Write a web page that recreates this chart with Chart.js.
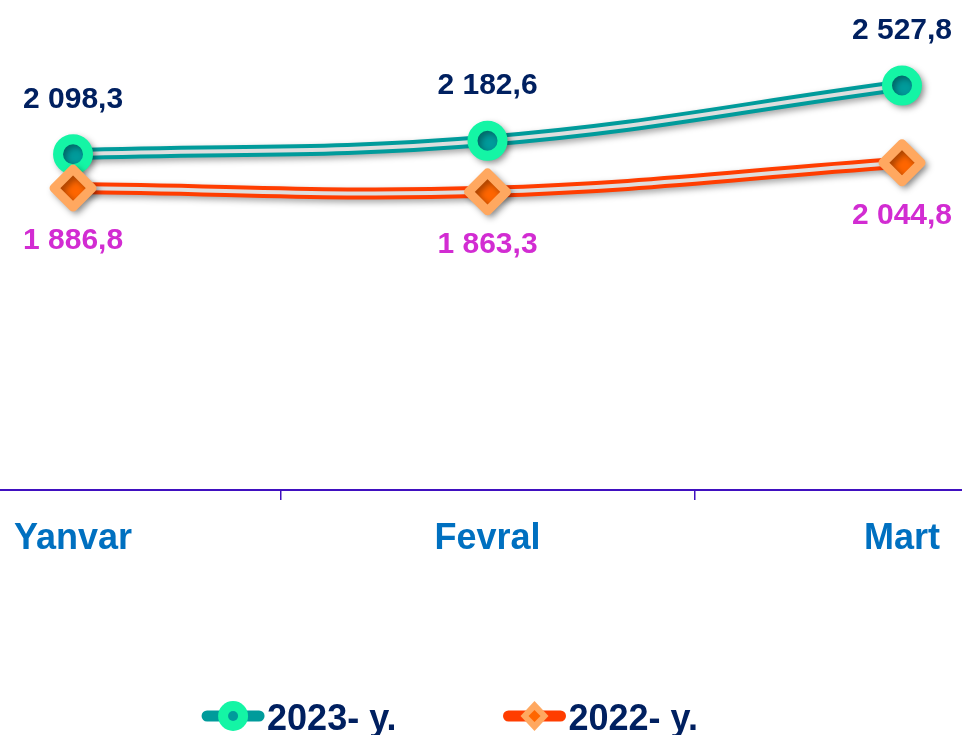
<!DOCTYPE html>
<html>
<head>
<meta charset="utf-8">
<title>2023 vs 2022</title>
<script src="https://cdn.jsdelivr.net/npm/chart.js@4/dist/chart.umd.min.js"></script>
<style>
    html, body { margin: 0; padding: 0; background: #ffffff; overflow: hidden; }
    #wrap { position: relative; width: 962px; height: 735px; }
</style>
</head>
<body>
<div id="wrap"><canvas id="monthChart"></canvas></div>
<script>
// chart data
const months = ['Yanvar', 'Fevral', 'Mart'];
const values2023 = [2098.3, 2182.6, 2527.8];
const values2022 = [1886.8, 1863.3, 2044.8];
const seriesNames = ['2023- y.', '2022- y.'];
const yRange = [0, 3000];

const TEAL = '#009b9b';
const MINT = '#14f5a5';
const RED_ORANGE = '#ff3d00';
const LIGHT_ORANGE = '#ffa860';
const DEEP_ORANGE = '#ff6600';
const STRIPE = '#dedede';

/**
 * Formats 2098.3 as "2 098,3".
 */
function formatValue(v) {
    const parts = v.toFixed(1).split('.');
    return parts[0].replace(/\B(?=(\d{3})+(?!\d))/g, ' ') + ',' + parts[1];
}

// drop shadow + round joins for the datasets flagged with shadow
const shadowPlugin = {
    id: 'shadowPlugin',
    beforeDatasetDraw(chart, args) {
        const ds = chart.data.datasets[args.index];
        const ctx = chart.ctx;
        ctx.save();
        ctx.lineJoin = 'round';
        if (ds.shadow) {
            ctx.shadowColor = 'rgba(0, 0, 0, 0.35)';
            ctx.shadowBlur = 6;
            ctx.shadowOffsetX = 3;
            ctx.shadowOffsetY = 3;
        }
    },
    afterDatasetDraw(chart) {
        chart.ctx.restore();
    }
};

// value labels above / below the markers
const valueLabelPlugin = {
    id: 'valueLabelPlugin',
    afterDatasetsDraw(chart) {
        const ctx = chart.ctx;
        chart.data.datasets.forEach((ds, i) => {
            if (!ds.labelColor) return;
            const meta = chart.getDatasetMeta(i);
            ctx.save();
            ctx.font = 'bold 30px "Liberation Sans", Arial, sans-serif';
            ctx.fillStyle = ds.labelColor;
            ctx.textAlign = 'center';
            ctx.textBaseline = 'middle';
            meta.data.forEach((pt, j) => {
                ctx.fillText(formatValue(ds.data[j]), pt.x, pt.y + ds.labelOffset);
            });
            ctx.restore();
        });
    }
};

// full width base line under the plot
const baseLinePlugin = {
    id: 'baseLinePlugin',
    afterDraw(chart) {
        const ctx = chart.ctx;
        const y = chart.scales.x.top;
        ctx.save();
        ctx.strokeStyle = '#4010c0';
        ctx.lineWidth = 2;
        ctx.beginPath();
        ctx.moveTo(0, y);
        ctx.lineTo(chart.width, y);
        ctx.stroke();
        ctx.restore();
    }
};

// legend with line + marker icons
const legendPlugin = {
    id: 'legendPlugin',
    afterDraw(chart) {
        const ctx = chart.ctx;
        const iconW = 62;
        const textGap = 3;
        const itemGap = 107;
        const cy = chart.height - 19;
        ctx.save();
        ctx.font = 'bold 36px "Liberation Sans", Arial, sans-serif';
        const widths = seriesNames.map(n => iconW + textGap + ctx.measureText(n).width);
        const total = widths[0] + itemGap + widths[1];
        let x = (chart.width - total) / 2 - 31;

        seriesNames.forEach((name, i) => {
            const lineColor = i === 0 ? TEAL : RED_ORANGE;
            ctx.lineCap = 'round';
            ctx.lineWidth = 11;
            ctx.strokeStyle = lineColor;
            ctx.beginPath();
            ctx.moveTo(x + 5, cy);
            ctx.lineTo(x + iconW - 5, cy);
            ctx.stroke();

            const mx = x + iconW / 2;
            if (i === 0) {
                ctx.fillStyle = MINT;
                ctx.beginPath();
                ctx.arc(mx, cy, 15, 0, Math.PI * 2);
                ctx.fill();
                ctx.fillStyle = TEAL;
                ctx.beginPath();
                ctx.arc(mx, cy, 5, 0, Math.PI * 2);
                ctx.fill();
            } else {
                ctx.fillStyle = LIGHT_ORANGE;
                ctx.beginPath();
                ctx.moveTo(mx, cy - 15);
                ctx.lineTo(mx + 14, cy);
                ctx.lineTo(mx, cy + 15);
                ctx.lineTo(mx - 14, cy);
                ctx.closePath();
                ctx.fill();
                ctx.fillStyle = DEEP_ORANGE;
                ctx.beginPath();
                ctx.moveTo(mx, cy - 6);
                ctx.lineTo(mx + 6, cy);
                ctx.lineTo(mx, cy + 6);
                ctx.lineTo(mx - 6, cy);
                ctx.closePath();
                ctx.fill();
            }

            ctx.fillStyle = '#002060';
            ctx.textAlign = 'left';
            ctx.textBaseline = 'alphabetic';
            ctx.fillText(name, x + iconW + textGap, cy + 14);
            x += widths[i] + itemGap;
        });
        ctx.restore();
    }
};

function lineSet(data, color, width, order, shadow) {
    return {
        data: data,
        borderColor: color,
        borderWidth: width,
        pointRadius: 0,
        pointHoverRadius: 0,
        tension: 0.4,
        fill: false,
        clip: false,
        order: order,
        shadow: shadow
    };
}

function initChart() {
    const ctx = document.getElementById('monthChart');
    if (!ctx) return;

    new Chart(ctx, {
        type: 'line',
        data: {
            labels: months,
            datasets: [
                lineSet(values2023, TEAL, 12, 6, true),
                lineSet(values2023, STRIPE, 4, 5, false),
                lineSet(values2022, RED_ORANGE, 12, 4, true),
                lineSet(values2022, STRIPE, 4, 3, false),
                {
                    label: seriesNames[0],
                    data: values2023,
                    showLine: false,
                    pointStyle: 'circle',
                    pointRadius: 15,
                    pointBorderWidth: 10,
                    pointBackgroundColor: TEAL,
                    pointBorderColor: MINT,
                    pointHoverRadius: 15,
                    clip: false,
                    order: 2,
                    shadow: true,
                    labelColor: '#002060',
                    labelOffset: -55
                },
                {
                    label: seriesNames[1],
                    data: values2022,
                    showLine: false,
                    pointStyle: 'rectRot',
                    pointRadius: 19,
                    pointBorderWidth: 9,
                    pointBackgroundColor: DEEP_ORANGE,
                    pointBorderColor: LIGHT_ORANGE,
                    pointHoverRadius: 19,
                    clip: false,
                    order: 1,
                    shadow: true,
                    labelColor: '#d22cd2',
                    labelOffset: 53
                }
            ]
        },
        options: {
            responsive: true,
            maintainAspectRatio: false,
            animation: false,
            layout: {
                autoPadding: false,
                padding: { left: 69, right: 60, top: 10, bottom: 156 }
            },
            plugins: {
                legend: { display: false },
                tooltip: { enabled: false }
            },
            scales: {
                x: {
                    offset: false,
                    border: { display: false },
                    grid: {
                        offset: true,
                        drawOnChartArea: false,
                        drawTicks: true,
                        tickLength: 10,
                        color: '#4010c0',
                        lineWidth: 1.5
                    },
                    ticks: {
                        color: '#0070c0',
                        padding: 14,
                        font: { family: '"Liberation Sans", Arial, sans-serif', size: 36, weight: 'bold', lineHeight: 1.42 }
                    }
                },
                y: {
                    display: false,
                    min: yRange[0],
                    max: yRange[1]
                }
            }
        },
        plugins: [shadowPlugin, valueLabelPlugin, baseLinePlugin, legendPlugin]
    });
}

document.addEventListener('DOMContentLoaded', initChart);
</script>
</body>
</html>
